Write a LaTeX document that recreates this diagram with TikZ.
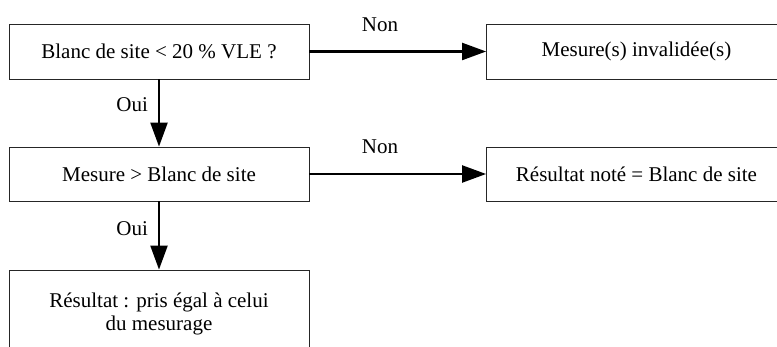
\documentclass[tikz,border=0pt]{standalone}
\usepackage{fontspec}
\setmainfont{Liberation Serif}
\usetikzlibrary{arrows.meta}
\tikzset{
  etape/.style={
    shape = rectangle,
    draw = black!85,
    line width = 0.8pt,
    inner sep = 0pt,
    minimum width = 300pt,
    minimum height = 55pt,
    align = center,
    font = \fontsize{21}{23}\selectfont
  },
  fleche/.style={
    line width = 2.2pt,
    -{Triangle[length=24pt,width=17pt]}
  },
  etiq/.style={
    inner sep = 0pt,
    font = \fontsize{21}{23}\selectfont
  },
  every picture/.style = {
    x=1pt,
    y=-1pt
  }
}

\begin{document}
\begin{tikzpicture}
        \useasboundingbox (0,0) rectangle (777,347);
        \node[etape] (blanc) at (159,51.5) {Blanc de site < 20 \% VLE ?};
        \node[etape] (invalide) at (636.5,51.5) {Mesure(s) invalidée(s)};
        \node[etape,minimum height=54pt] (mesure) at (159,174) {Mesure > Blanc de site};
        \node[etape,minimum height=54pt] (note) at (636.5,174) {Résultat noté = Blanc de site};
        \node[etape,minimum height=87pt] (resultat) at (159,313.5) {Résultat : pris égal à celui\\du mesurage};
        \draw[fleche] (blanc) -- node[etiq,pos=0.4,above=19pt] {Non} (invalide);
        \draw[fleche] (blanc) -- node[etiq,pos=0.38,left=10pt] {Oui} (mesure);
        \draw[fleche] (mesure) -- node[etiq,pos=0.4,above=19pt] {Non} (note);
        \draw[fleche] (mesure) -- node[etiq,pos=0.4,left=10pt] {Oui} (resultat);
    \end{tikzpicture}
\end{document}
